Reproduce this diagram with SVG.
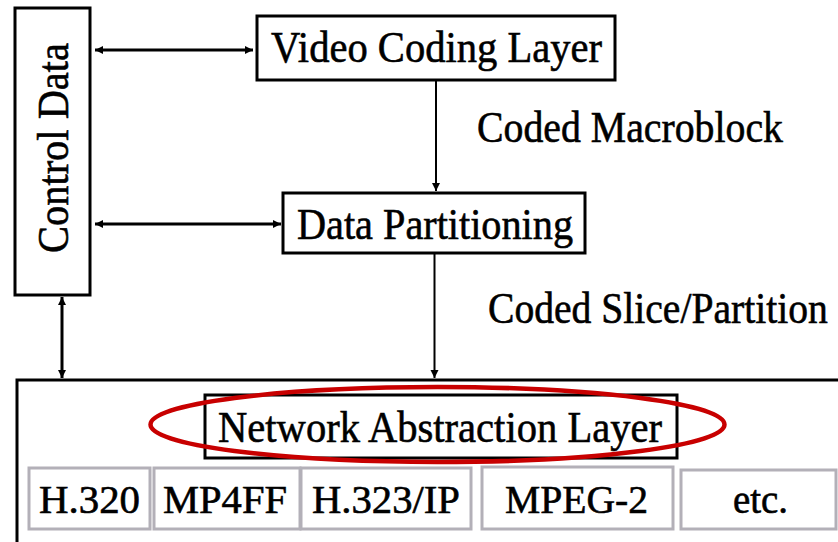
<svg xmlns="http://www.w3.org/2000/svg" width="838" height="542" viewBox="0 0 838 542">
<defs>
<style>
.box{fill:#fff;stroke:#000;stroke-width:3}
.gbox{fill:#fff;stroke:#b3b0b8;stroke-width:3}
.t{font-family:"Liberation Serif","Times New Roman",serif;fill:#000;stroke:#000;stroke-width:0.6;font-size:45px}
.s{font-size:40px}
.c{stroke:#000;fill:none}
</style>
<marker id="ah" markerUnits="userSpaceOnUse" markerWidth="10" markerHeight="10" viewBox="0 0 10 10" refX="9" refY="5" orient="auto-start-reverse">
<path d="M1,1 L9,5 L1,9 Z" fill="#000"/>
</marker>
</defs>
<rect width="838" height="542" fill="#fff"/>
<g id="connectors">
<line class="c" x1="95" y1="50" x2="253" y2="50" stroke-width="3" marker-start="url(#ah)" marker-end="url(#ah)"/>
<line class="c" x1="95" y1="224" x2="281" y2="224" stroke-width="3" marker-start="url(#ah)" marker-end="url(#ah)"/>
<line class="c" x1="436" y1="81" x2="436" y2="191" stroke-width="2" marker-end="url(#ah)"/>
<line class="c" x1="434.5" y1="254" x2="434.5" y2="378" stroke-width="2" marker-end="url(#ah)"/>
<line class="c" x1="62" y1="297" x2="62" y2="378" stroke-width="3" marker-start="url(#ah)" marker-end="url(#ah)"/>
</g>
<g id="control-data">
<rect class="box" x="15" y="8" width="75" height="287"/>
<text class="t" x="68" y="253" transform="rotate(-90 68 253)" font-size="44" textLength="210" lengthAdjust="spacingAndGlyphs">Control Data</text>
</g>
<g id="video-coding-layer">
<rect class="box" x="257" y="16" width="358" height="64"/>
<text class="t" x="271" y="62" textLength="331" lengthAdjust="spacingAndGlyphs">Video Coding Layer</text>
</g>
<g id="data-partitioning">
<rect class="box" x="283" y="193" width="302" height="60"/>
<text class="t" x="297" y="239" textLength="276" lengthAdjust="spacingAndGlyphs">Data Partitioning</text>
</g>
<g id="label-macroblock">
<text class="t" x="477" y="142" font-size="44" textLength="306" lengthAdjust="spacingAndGlyphs">Coded Macroblock</text>
</g>
<g id="label-slice">
<text class="t" transform="translate(488 323) scale(0.88 1)" x="0" y="0" font-size="43">Coded Slice/Partition</text>
</g>
<g id="nal-container">
<path d="M17,542 L17,380 L840,380" fill="none" stroke="#000" stroke-width="3"/>
</g>
<g id="network-abstraction-layer">
<rect class="box" x="205" y="395" width="472" height="63"/>
<text class="t" x="218" y="442" textLength="444" lengthAdjust="spacingAndGlyphs">Network Abstraction Layer</text>
<ellipse cx="437.5" cy="424.5" rx="287" ry="37.5" fill="none" stroke="#c80000" stroke-width="4.5"/>
</g>
<g id="h320">
<rect class="gbox" x="29" y="468" width="121" height="61"/>
<text class="t s" x="39" y="513" textLength="101" lengthAdjust="spacingAndGlyphs">H.320</text>
</g>
<g id="mp4ff">
<rect class="gbox" x="154" y="468" width="146" height="61"/>
<text class="t s" x="163" y="513" textLength="124" lengthAdjust="spacingAndGlyphs">MP4FF</text>
</g>
<g id="h323ip">
<rect class="gbox" x="301" y="468" width="170" height="61"/>
<text class="t s" x="312" y="513" textLength="148" lengthAdjust="spacingAndGlyphs">H.323/IP</text>
</g>
<g id="mpeg2">
<rect class="gbox" x="482" y="467" width="191" height="62"/>
<text class="t s" x="505" y="513" textLength="143" lengthAdjust="spacingAndGlyphs">MPEG-2</text>
</g>
<g id="etc">
<rect class="gbox" x="681" y="470" width="155" height="59"/>
<text class="t s" x="733" y="513" textLength="55" lengthAdjust="spacingAndGlyphs">etc.</text>
</g>
</svg>
